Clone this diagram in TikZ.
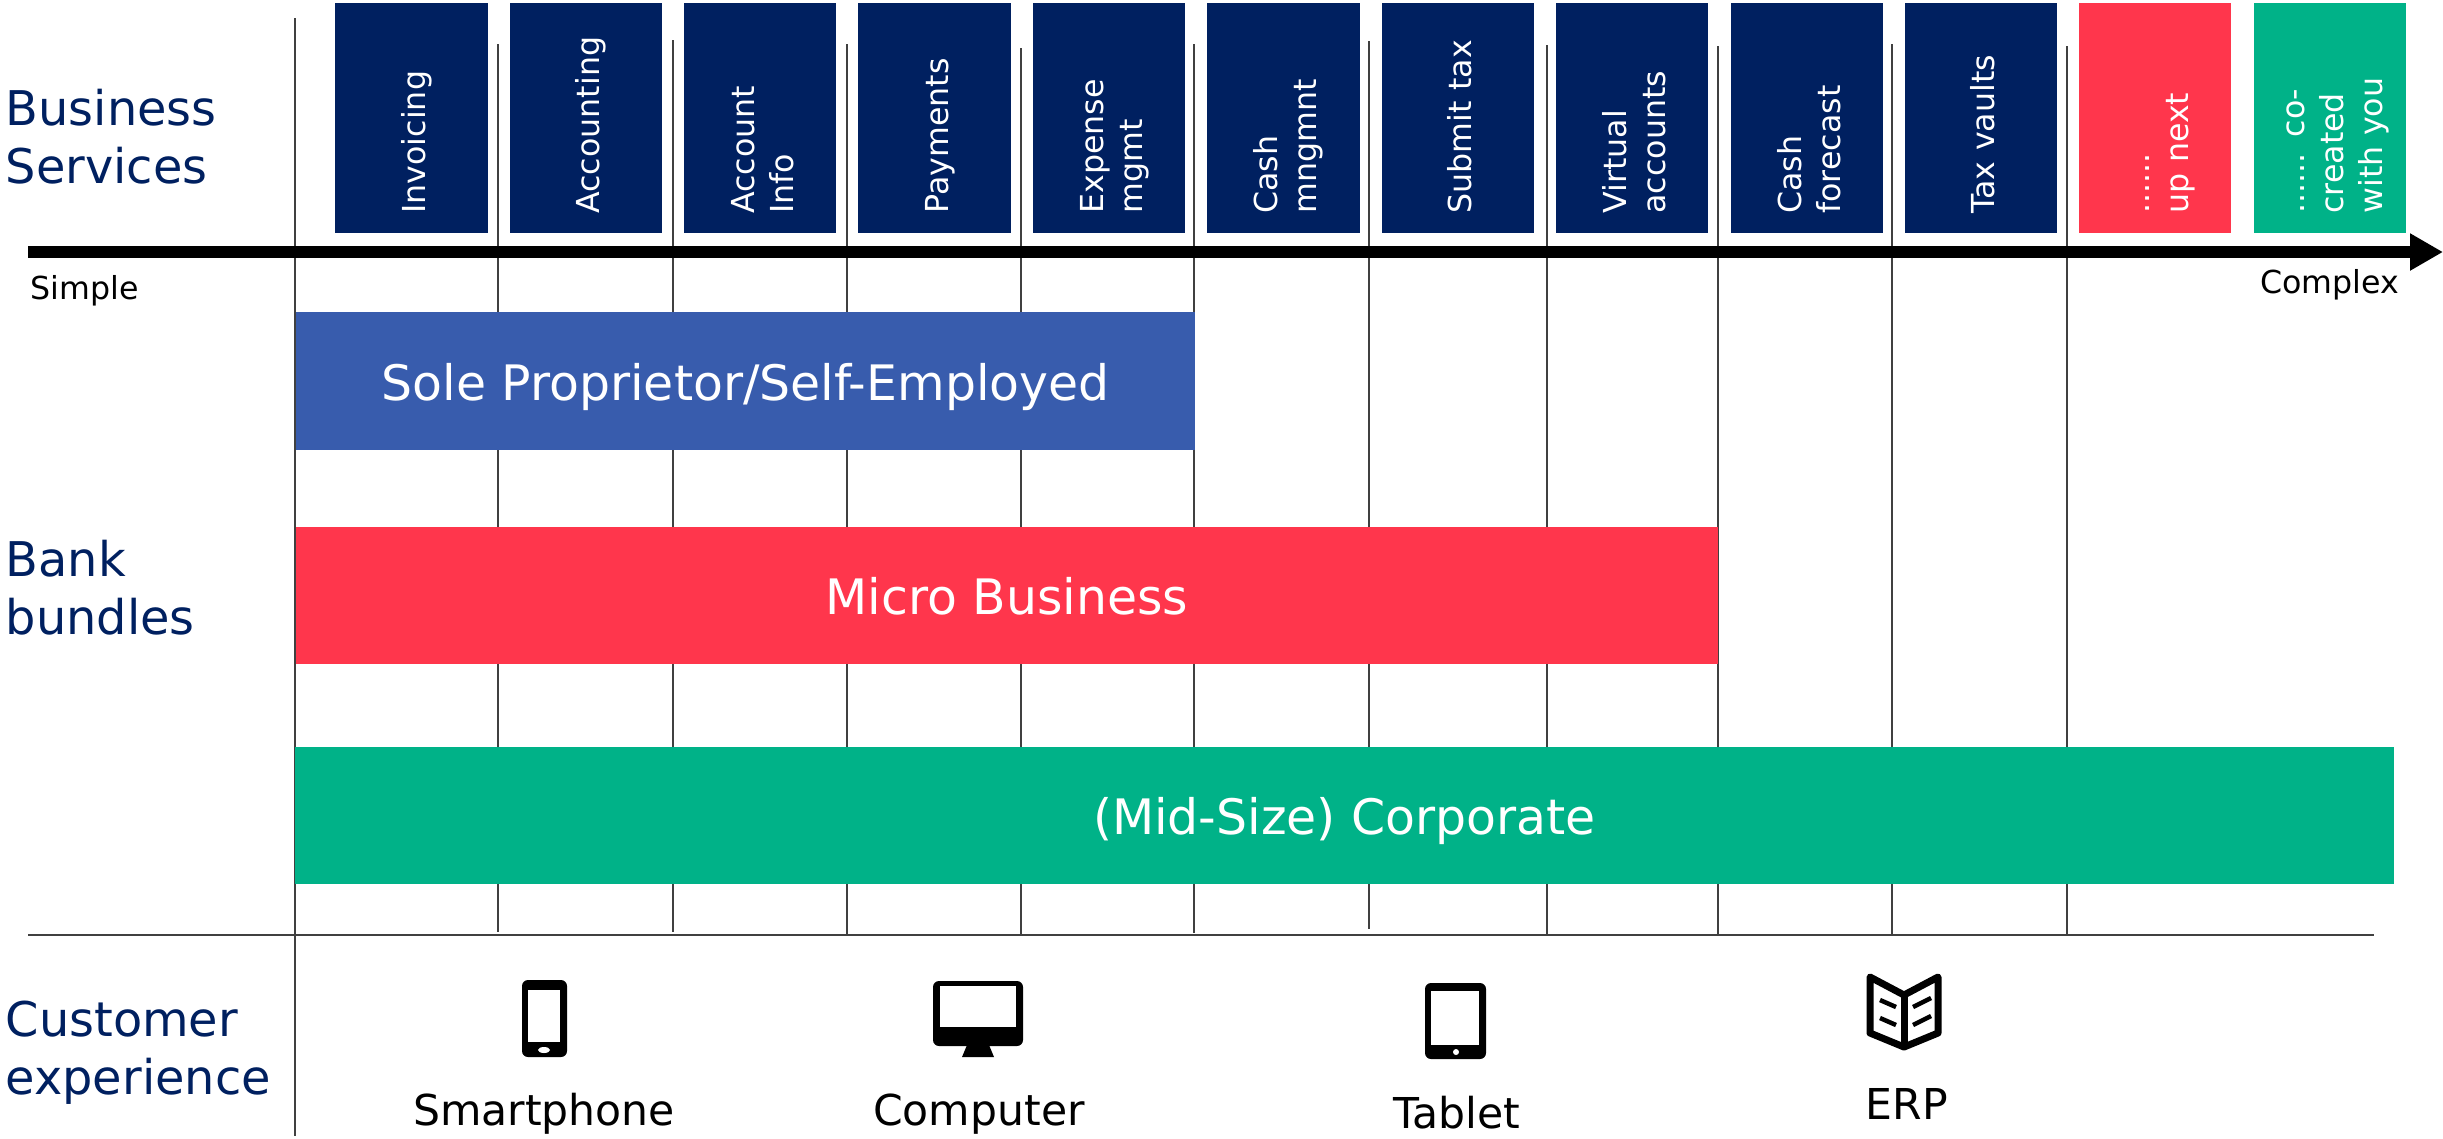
\documentclass[tikz,border=0pt]{standalone}
\usepackage{fontspec}
\setmainfont{DejaVu Sans}
\usetikzlibrary{arrows.meta}
\definecolor{navyblue}{HTML}{002060}
\definecolor{signalred}{HTML}{FF364C}
\definecolor{mintgreen}{HTML}{00B288}
\definecolor{bundleblue}{HTML}{385CAD}
\tikzset{
  gridline/.style={draw=black!75,line width=.016cm},
  svcbox/.style={rotate=90,fill=#1,text=white,minimum width=2.30cm,minimum height=1.52cm,
    inner xsep=.195cm,inner ysep=0pt,text width=1.91cm,align=left,
    font=\fontsize{9}{11.1}\selectfont,
    execute at begin node=\rule{0pt}{10pt},
    execute at end node=\rule[-2.3pt]{0pt}{2.3pt}},
  svcbox/.default=navyblue,
  bundlebar/.style={fill=#1,text=white,minimum height=1.37cm,inner sep=0pt,
    text height=14pt,text depth=3pt,font=\fontsize{13.9}{16}\selectfont},
  lanetext/.style={anchor=west,inner sep=0pt,text=navyblue,align=left,
    font=\fontsize{13.6}{16.4}\selectfont},
  axistext/.style={inner sep=0pt,font=\fontsize{9}{11}\selectfont},
  devicetext/.style={inner sep=0pt,font=\fontsize{12.1}{14}\selectfont},
  iconbody/.style={rounded corners=.06cm},
  iconline/.style={line width=.07cm,line join=round}
}

\begin{document}
\begin{tikzpicture}[x=.01cm,y=-.01cm]
    \useasboundingbox (0,0) rectangle (2443,1138);
    % grid
    \draw[gridline] (295,18) -- (295,1136);
    \draw[gridline] (498,44) -- (498,932);
    \draw[gridline] (673,40) -- (673,932);
    \draw[gridline] (847,44) -- (847,935);
    \draw[gridline] (1021,48) -- (1021,935);
    \draw[gridline] (1194,44) -- (1194,933);
    \draw[gridline] (1369,41) -- (1369,929);
    \draw[gridline] (1547,45) -- (1547,935);
    \draw[gridline] (1718,46) -- (1718,935);
    \draw[gridline] (1892,44) -- (1892,935);
    \draw[gridline] (2067,46) -- (2067,935);
    \draw[gridline] (28,935) -- (2374,935);
    %
    \node[lanetext] (services) at (5,136.5) {Business\\Services};
    \node[lanetext] (bundles) at (5,587.5) {Bank\\bundles};
    \node[lanetext] (experience) at (5,1053) {Customer\\experience};
    %
    \node[svcbox] (invoicing) at (411.5,118) {Invoicing};
    \node[svcbox] (accounting) at (586,118) {Accounting};
    \node[svcbox] (accountinfo) at (760,118) {Account\\Info};
    \node[svcbox] (payments) at (934.5,118) {Payments};
    \node[svcbox] (expense) at (1109,118) {Expense\\mgmt};
    \node[svcbox] (cash) at (1283.5,118) {Cash\\mngmnt};
    \node[svcbox] (submittax) at (1458,118) {Submit tax};
    \node[svcbox] (virtual) at (1632,118) {Virtual\\accounts};
    \node[svcbox] (forecast) at (1807,118) {Cash\\forecast};
    \node[svcbox] (taxvaults) at (1981,118) {Tax vaults};
    \node[svcbox=signalred] (upnext) at (2155,118) {......\\up next};
    \node[svcbox=mintgreen] (cocreated) at (2330,118) {...... co-\\created\\with you};
    %
    \coordinate (axisstart) at (28,252);
    \coordinate (axisend) at (2443,252);
    \draw[line width=.12cm,-{Triangle[length=.33cm,width=.35cm]}] (axisstart) -- (axisend);
    \node[axistext,anchor=west] (simple) at (30,291) {Simple};
    \node[axistext,anchor=east] (complex) at (2400,285) {Complex};
    %
    \node[bundlebar=bundleblue,minimum width=8.99cm] (sole) at (745.5,381) {Sole Proprietor/Self-Employed};
    \node[bundlebar=signalred,minimum width=14.22cm] (micro) at (1007,595.5) {Micro Business};
    \node[bundlebar=mintgreen,minimum width=20.97cm] (corporate) at (1344.5,815.5) {(Mid-Size) Corporate};
    %
    \fill[iconbody] (522,980) rectangle (567,1057);
    \fill[white] (528,990) rectangle (560,1042);
    \fill[white] (544,1050) ellipse (6 and 3);
    \fill[iconbody] (933,981) rectangle (1023,1046);
    \fill[white] (940,986) rectangle (1016,1027);
    \fill (967,1045) -- (989,1045) -- (994,1057) -- (962,1057) -- cycle;
    \fill[iconbody] (1425,983) rectangle (1486,1059);
    \fill[white] (1431,991) rectangle (1479,1045);
    \fill[white] (1456,1052) circle (3);
    \draw[iconline] (1870,977) -- (1904,995) -- (1938,977) -- (1938,1033) -- (1904,1047) -- (1870,1033) -- cycle;
    \draw[iconline] (1904,995) -- (1904,1047);
    \draw[line width=.045cm] (1880,1000) -- (1896,1007);
    \draw[line width=.045cm] (1880,1018) -- (1896,1025);
    \draw[line width=.045cm] (1913,1007) -- (1931,998);
    \draw[line width=.045cm] (1913,1025) -- (1931,1016);
    %
    \node[devicetext] (smartphone) at (544,1114) {Smartphone};
    \node[devicetext] (computer) at (979,1114) {Computer};
    \node[devicetext] (tablet) at (1457,1113) {Tablet};
    \node[devicetext] (erp) at (1907,1104) {ERP};
\end{tikzpicture}
\end{document}
